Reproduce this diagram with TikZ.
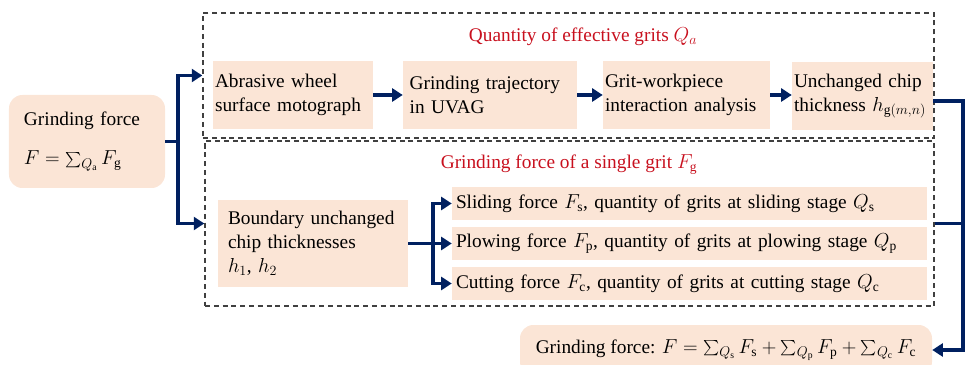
\documentclass[tikz,border=0pt]{standalone}
\usepackage{fontspec}
\setmainfont{Liberation Serif}
\usetikzlibrary{arrows.meta}

\definecolor{peach}{HTML}{FBE5D6}
\definecolor{navy}{HTML}{002060}
\definecolor{titlered}{HTML}{C8101E}
\definecolor{dashgray}{HTML}{404040}

% a somewhat larger inline sum
\newcommand\gsum{\mathop{\vcenter{\hbox{\scalebox{1.3}{$\sum$}}}}\nolimits}

\begin{document}
\begin{tikzpicture}[x=0.3mm,y=-0.3mm,
    every node/.style={font=\fontsize{16.5}{20.5}\selectfont},
    stage/.style={fill=peach, align=left, inner xsep=0.6mm, inner ysep=0pt},
    group/.style={draw=dashgray, line width=1.2pt, dash pattern=on 4.3pt off 3.2pt, inner sep=0pt},
    heading/.style={text=titlered},
    joint/.style={draw=navy, line width=3.4pt},
    flow/.style={joint, -{Triangle[length=9pt,width=11pt]}}]
  \useasboundingbox (0,0) rectangle (970,365);

  % the two dashed groups and their titles
  \node[group, minimum width=219.3mm, minimum height=37.5mm] (qbox) at (568.5,75.5) {};
  \node[group, minimum width=218.7mm, minimum height=49.5mm] (fbox) at (569.5,223.5) {};
  \node[heading] (qtitle) at (583,37) {Quantity of effective grits $Q_a$};
  \node[heading] (ftitle) at (569,165) {Grinding force of a single grit $F_\mathrm{g}$};

  \node[stage, rounded corners=4mm, inner xsep=4.5mm, text width=37.8mm, minimum height=27.9mm] (force) at (87,141.5)
    {Grinding force\\[4.5mm] $F=\gsum_{Q_\mathrm{a}}F_\mathrm{g}$};

  % effective grits
  \node[stage, text width=46.8mm, minimum height=20.4mm] (wheel) at (293,95) {Abrasive wheel\\surface motograph};
  \node[stage, inner xsep=2mm, text width=48.2mm, minimum height=20.4mm] (traj) at (490,95) {Grinding trajectory\\in UVAG};
  \node[stage, text width=48.9mm, minimum height=20.4mm] (contact) at (686.5,95) {Grit-workpiece\\interaction analysis};
  \node[stage, text width=41.1mm, minimum height=20.4mm] (chip) at (862.5,96) {Unchanged chip\\thickness $h_{\mathrm{g}(m,n)}$};

  % single grit
  \node[stage, inner xsep=3mm, text width=51mm, minimum height=25.8mm] (bound) at (313,243.5)
    {Boundary unchanged\\chip thicknesses\\$h_1$, $h_2$};
  \node[stage, inner xsep=1.2mm, text width=140.1mm, minimum height=9.9mm] (slide) at (689.5,203.5)
    {Sliding force $F_\mathrm{s}$, quantity of grits at sliding stage $Q_\mathrm{s}$};
  \node[stage, inner xsep=1.2mm, text width=140.1mm, minimum height=9.9mm] (plow) at (689.5,243.5)
    {Plowing force $F_\mathrm{p}$, quantity of grits at plowing stage $Q_\mathrm{p}$};
  \node[stage, inner xsep=1.2mm, text width=140.1mm, minimum height=9.9mm] (cut) at (689.5,283.5)
    {Cutting force $F_\mathrm{c}$, quantity of grits at cutting stage $Q_\mathrm{c}$};

  \node[stage, rounded corners=4mm, align=center, minimum width=123.6mm, minimum height=15mm] (total) at (726,350)
    {Grinding force: $F=\gsum_{Q_\mathrm{s}}F_\mathrm{s}+\gsum_{Q_\mathrm{p}}F_\mathrm{p}+\gsum_{Q_\mathrm{c}}F_\mathrm{c}$};

  % connectors
  \coordinate (split) at ([xshift=3.9mm]force.east);
  \draw[joint] (force.east) -- (split);
  \draw[flow] (split) |- (qbox.west);
  \draw[flow] (split) |- (fbox.west);

  \draw[flow] (wheel) -- (traj);
  \draw[flow] (traj) -- (contact);
  \draw[flow] (contact.east) -- (contact.east -| chip.west);

  \coordinate (fork) at ([xshift=7.5mm]bound.east);
  \draw[joint] (bound.east) -- (fork);
  \draw[flow] (fork) |- (slide.west);
  \draw[flow] (fork) |- (plow.west);
  \draw[flow] (fork) |- (cut.west);

  \coordinate (bend) at ([xshift=9mm]chip.east);
  \draw[flow] ([yshift=-1.5mm]chip.east) -- ([yshift=-1.5mm]bend) |- (total.east);
  \draw[joint] (fbox.east) -- (fbox.east -| bend);
\end{tikzpicture}
\end{document}
